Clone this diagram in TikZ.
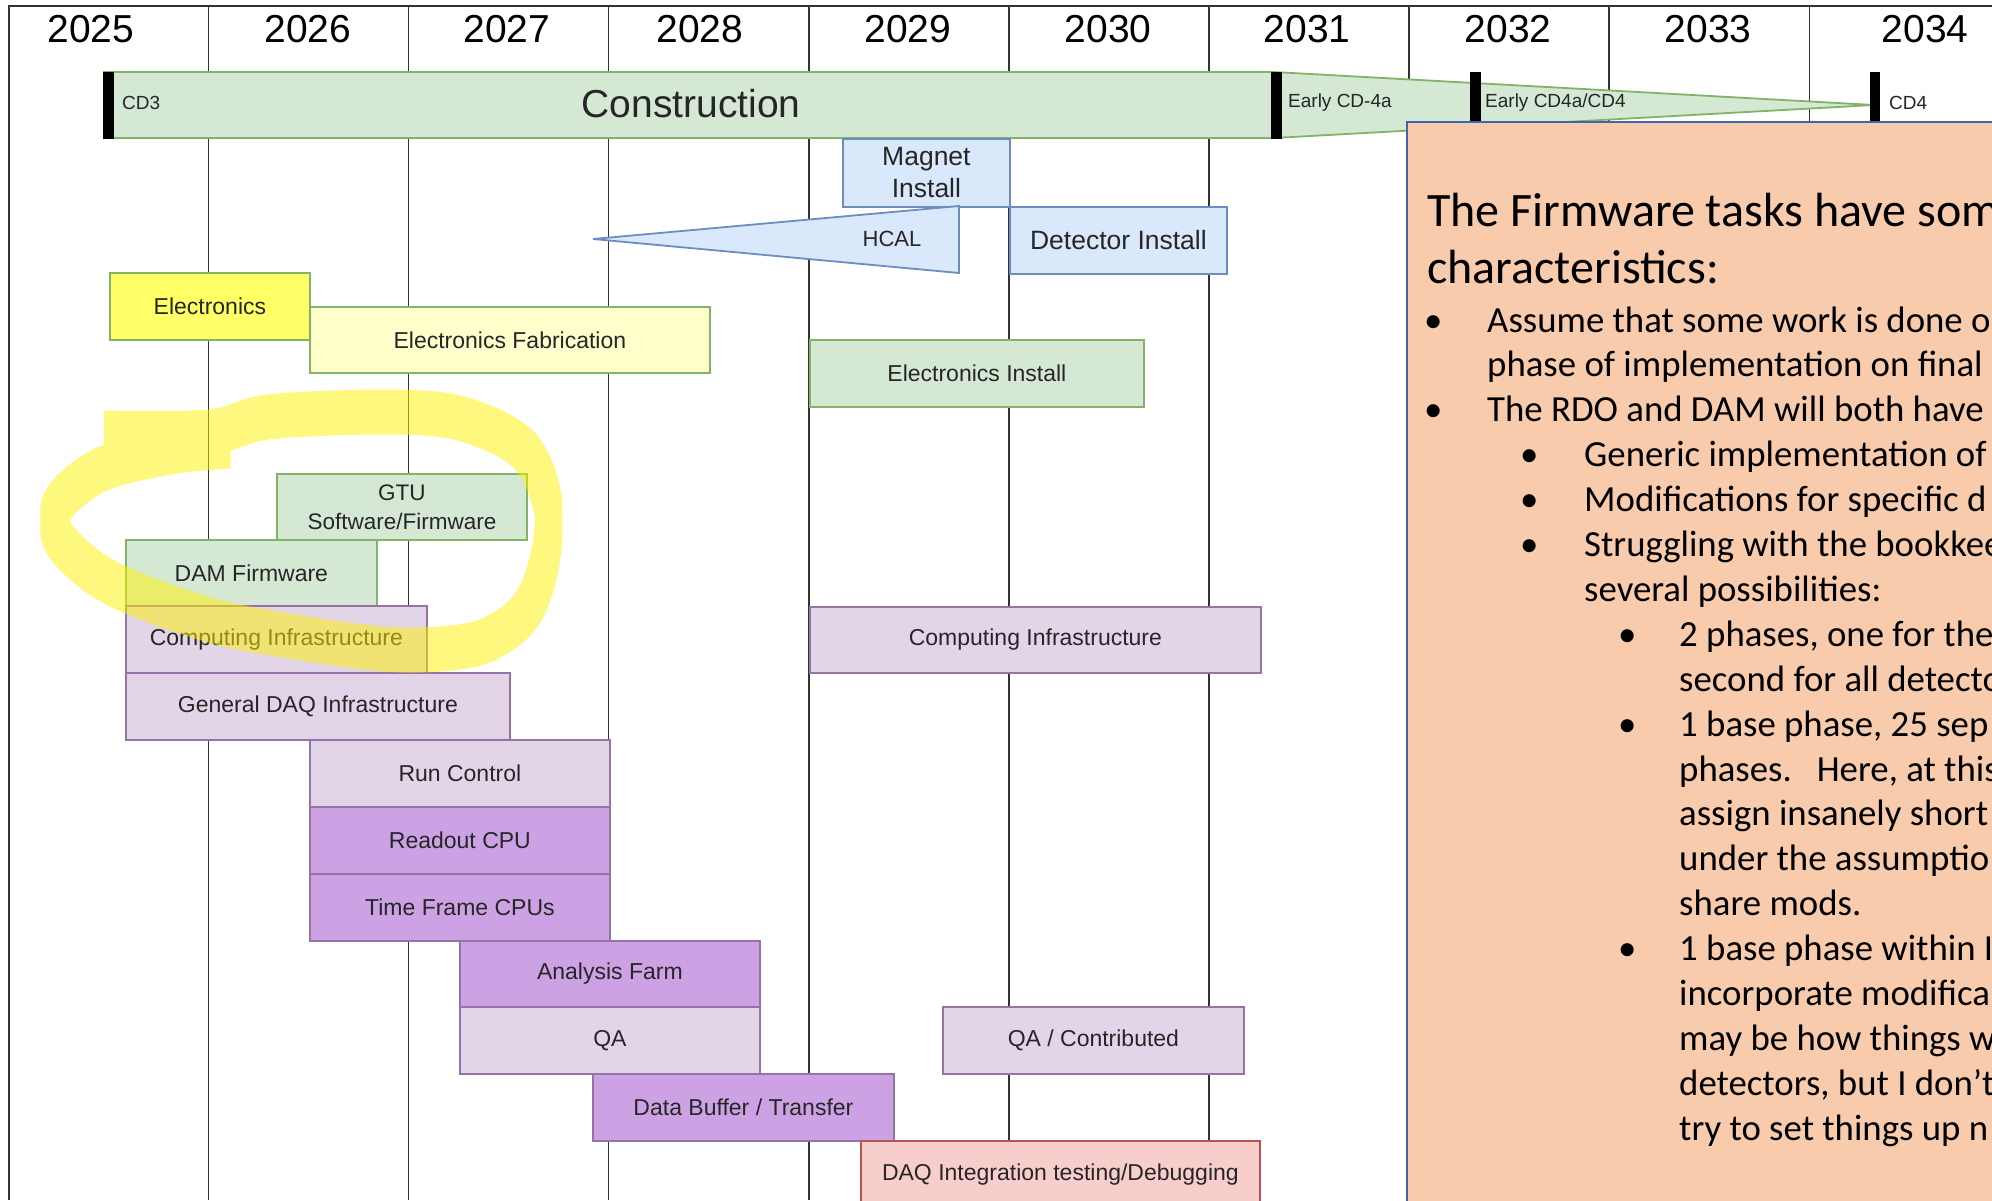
\documentclass[tikz,border=0pt]{standalone}
\usepackage{fontspec}
\setmainfont{Liberation Sans}
\newfontfamily\calibri{Carlito}
\definecolor{gfill}{HTML}{D5E8D4}
\definecolor{gline}{HTML}{82B366}
\definecolor{bfill}{HTML}{DAE8FC}
\definecolor{bline}{HTML}{6C8EBF}
\definecolor{yfill}{HTML}{FFFF66}
\definecolor{lyfill}{HTML}{FFFFCC}
\definecolor{pfill}{HTML}{E1D5E7}
\definecolor{pline}{HTML}{9673A6}
\definecolor{dpfill}{HTML}{CDA2E4}
\definecolor{rfill}{HTML}{F8CECC}
\definecolor{rline}{HTML}{B85450}
\definecolor{ofill}{HTML}{F8CBAD}
\definecolor{oline}{HTML}{3F65AF}
\definecolor{ink}{HTML}{262626}
% freehand highlighter loop, shifted vertically by #1
\newcommand\hlloop[1]{plot[smooth,tension=0.55] coordinates {
 (104,{433+#1}) (210,{432+#1}) (268,{417+#1}) (383,{412+#1}) (459,{418+#1})
 (522,{448+#1}) (547,{500+#1}) (545,{560+#1}) (525,{612+#1}) (482,{642+#1})
 (421,{650+#1}) (364,{647+#1}) (290,{636+#1}) (210,{620+#1}) (111,{583+#1})
 (60,{540+#1}) (58,{505+#1}) (100,{470+#1}) (170,{452+#1}) (230,{446+#1})}}
\begin{document}
\begin{tikzpicture}[x=1pt,y=-1pt,
  gridline/.style={draw=black!80, line width=1.5pt},
  year/.style={font=\fontsize{39}{45}\selectfont, text=black},
  milestone/.style={font=\fontsize{19}{22}\selectfont, text=ink, anchor=west, inner sep=0pt},
  marker/.style={fill=black},
  taskbox/.style={draw, line width=1.8pt, inner sep=0pt, anchor=north west, align=center,
                  text=ink, font=\fontsize{23}{27}\selectfont},
  greenbox/.style={taskbox, fill=gfill, draw=gline},
  bluebox/.style={taskbox, fill=bfill, draw=bline, font=\fontsize{26.5}{32}\selectfont},
  yelbox/.style={taskbox, fill=yfill, draw=gline},
  lyelbox/.style={taskbox, fill=lyfill, draw=gline},
  purbox/.style={taskbox, fill=pfill, draw=pline},
  dpurbox/.style={taskbox, fill=dpfill, draw=pline},
  redbox/.style={taskbox, fill=rfill, draw=rline},
  note/.style={anchor=base west, inner sep=0pt, text=black, font=\calibri\fontsize{36.8}{45}\selectfont},
  notetitle/.style={note, font=\calibri\fontsize{48}{56}\selectfont},
]
\useasboundingbox (0,0) rectangle (1992,1200);
\fill[white] (0,0) rectangle (1992,1200);

% year grid
\draw[gridline] (9,1200) -- (9,6) -- (1992,6);
\foreach \i in {0,...,8}
  \draw[gridline] ({208.5+200.1*\i},6) -- ({208.5+200.1*\i},1200);
\foreach \x/\y in {91/2025,308/2026,507/2027,700/2028,908/2029,1108/2030,1307/2031,1508/2032,1708/2033,1925/2034}
  \node[year] (y\y) at (\x,29) {\y};

% construction phase and milestones
\draw[fill=gfill, draw=gline, line width=1.8pt] (1274,72) -- (1874,105) -- (1274,138) -- cycle;
\draw[fill=gfill, draw=gline, line width=1.8pt] (104,72) rectangle (1274,138);
\node[font=\fontsize{39}{45}\selectfont, text=ink] (constr) at (691,104) {Construction};
\fill[marker] (103,72) rectangle (114,139);
\fill[marker] (1271,72) rectangle (1282,139);
\fill[marker] (1470,72) rectangle (1481,139);
\fill[marker] (1870,72) rectangle (1880,139);
\node[milestone] (cd3) at (122,103) {CD3};
\node[milestone] (cd4a) at (1288,103) {Early CD-4a};
\node[milestone] (cd4b) at (1485,103) {Early CD4a/CD4};
\node[milestone] (cd4) at (1889,103) {CD4};

% installation
\node[bluebox, minimum width=167pt, minimum height=68pt] (magnet) at (842,138) {Magnet\\Install};
\draw[fill=bfill, draw=bline, line width=1.8pt] (593,239) -- (959,206) -- (959,273) -- cycle;
\node[font=\fontsize{22}{26}\selectfont, text=ink] (hcal) at (892,239) {HCAL};
\node[bluebox, minimum width=217pt, minimum height=67pt] (detector) at (1009,206) {Detector Install};

% electronics
\node[yelbox, minimum width=200pt, minimum height=67pt] (elec) at (109,272) {Electronics};
\node[lyelbox, minimum width=400pt, minimum height=66pt] (elecfab) at (309,306) {Electronics Fabrication};
\node[greenbox, minimum width=334pt, minimum height=67pt] (elecinst) at (809,339) {Electronics Install};

% firmware and DAQ
\node[greenbox, minimum width=250pt, minimum height=66pt, font=\fontsize{22.5}{29}\selectfont] (gtu) at (276,473) {GTU\\Software/Firmware};
\node[greenbox, minimum width=251pt, minimum height=66pt] (dam) at (125,539) {DAM Firmware};
\node[purbox, minimum width=301pt, minimum height=67pt] (compL) at (125,605) {Computing Infrastructure};
\node[purbox, minimum width=384pt, minimum height=67pt] (gendaq) at (125,672) {General DAQ Infrastructure};
\node[purbox, minimum width=300pt, minimum height=67pt] (runctl) at (309,739) {Run Control};
\node[dpurbox, minimum width=300pt, minimum height=67pt] (readout) at (309,806) {Readout CPU};
\node[dpurbox, minimum width=300pt, minimum height=67pt] (tfcpu) at (309,873) {Time Frame CPUs};
\node[dpurbox, minimum width=300pt, minimum height=66pt] (anafarm) at (459,940) {Analysis Farm};
\node[purbox, minimum width=300pt, minimum height=67pt] (qa) at (459,1006) {QA};
\node[dpurbox, minimum width=301pt, minimum height=67pt] (databuf) at (592,1073) {Data Buffer / Transfer};
\node[redbox, minimum width=399pt, minimum height=67pt] (daqint) at (860,1140) {DAQ Integration testing/Debugging};
\node[purbox, minimum width=451pt, minimum height=66pt] (compR) at (809,606) {Computing Infrastructure};
\node[purbox, minimum width=301pt, minimum height=67pt] (qacontrib) at (942,1006) {QA / Contributed};

% highlighter stroke around the firmware tasks
\path[draw=yellow, opacity=0.5, line width=27pt, line join=round, line cap=butt]
  \hlloop{-9} \hlloop{0} \hlloop{9};

% notes panel
\draw[fill=ofill, draw=oline, line width=2.5pt] (1407,122) rectangle (2010,1220);
\node[notetitle] (t1) at (1427,226) {The Firmware tasks have some};
\node[notetitle] (t2) at (1427,283) {characteristics:};
\foreach \k/\lvl/\txt [count=\n] in {
  0/1/{Assume that some work is done on},
  1/0/{phase of implementation on final},
  2/1/{The RDO and DAM will both have},
  3/2/{Generic implementation of},
  4/2/{Modifications for specific d},
  5/2/{Struggling with the bookkee},
  6/0/{several possibilities:},
  7/3/{2 phases, one for the},
  8/0/{second for all detecto},
  9/3/{1 base phase, 25 sep},
  10/0/{phases.\ \ \ Here, at this},
  11/0/{assign insanely short},
  12/0/{under the assumptio},
  13/0/{share mods.},
  14/3/{1 base phase within I},
  15/0/{incorporate modifica},
  16/0/{may be how things w},
  17/0/{detectors, but I don’t},
  18/0/{try to set things up n}}
{
  \pgfmathsetmacro\by{332+44.9*\k}
  % indentation: level 1 body, level 2 sub-items, level 3 sub-sub-items
  \ifnum\k<6
    \ifnum\k>2 \def\tx{1584}\else\def\tx{1487}\fi
  \else
    \ifnum\k=6 \def\tx{1584}\else\def\tx{1679}\fi
  \fi
  \node[note] (n\n) at (\tx,\by) {\txt};
  \ifcase\lvl\or
    \node[note] (b\n) at (1424,\by) {•};\or
    \node[note] (b\n) at (1520,\by) {•};\or
    \node[note] (b\n) at (1618,\by) {•};\fi
}
\end{tikzpicture}
\end{document}
